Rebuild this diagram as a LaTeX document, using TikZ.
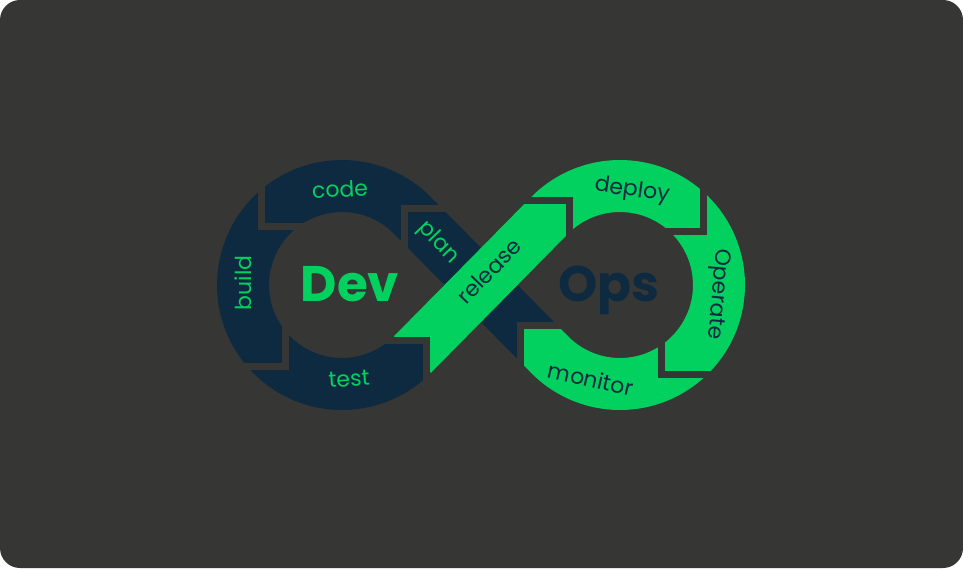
\documentclass[tikz,border=0pt]{standalone}
\usepackage{fontspec}
\setmainfont{Poppins}
\usetikzlibrary{calc}

\definecolor{bgdark}{HTML}{363634}
\definecolor{opsnavy}{HTML}{0E2A40}
\definecolor{devgreen}{HTML}{03D15F}

% chevron cut: name, tip, direction of horizontal arm, direction of vertical arm
\newcommand\chevron[4]{%
  \coordinate (#1) at #2;
  \coordinate (#1-h) at ($(#1)+(#3*64,0)$);
  \coordinate (#1-v) at ($(#1)+(0,#4*64)$);
}

% centre line of the whole loop
\def\eightpath{(T1) -- (T2) arc[start angle=135.4,end angle=-135.4,radius=99]
  -- (T4) arc[start angle=44.6,end angle=315.4,radius=99] -- cycle}

\begin{document}
\begin{tikzpicture}[x=1pt, y=1pt,
  seg/.style={line width=52pt},
  gap/.style={draw=bgdark, line width=7pt, line join=miter},
  lbl/.style={font=\fontsize{22}{22}\selectfont, inner sep=0pt},
  big/.style={font=\fontsize{50}{50}\selectfont\bfseries, inner sep=0pt, anchor=base}]

\useasboundingbox (0,0) rectangle (963,568);
\fill[white] (0,0) rectangle (963,568);
\fill[bgdark, rounded corners=20pt] (0,0) rectangle (963,568);

\coordinate (C1) at (342,283);
\coordinate (C2) at (620,283);
\coordinate (T1) at ($(C1)+(-44.6:99)$);
\coordinate (T2) at ($(C2)+(135.4:99)$);
\coordinate (T3) at ($(C2)+(-135.4:99)$);
\coordinate (T4) at ($(C1)+(44.6:99)$);

\chevron{ch1}{($(C1)+(50.5:99)$)}{1}{-1}      % plan -> code
\chevron{ch2}{($(C1)+(144:99)$)}{1}{1}        % code -> build
\chevron{ch3}{($(C1)+(235:99)$)}{-1}{1}       % build -> test
\chevron{ch4}{($(T1)+(45.4:20)$)}{-1}{-1}     % test -> release
\chevron{ch5}{($(C2)+(121:99)$)}{-1}{-1}      % release -> deploy
\chevron{ch6}{($(C2)+(33:99)$)}{-1}{1}        % deploy -> operate
\chevron{ch7}{($(C2)+(-65:99)$)}{1}{1}        % operate -> monitor
\chevron{ch8}{($(T3)+(134.6:41)$)}{1}{-1}     % monitor -> plan

% Dev side
\begin{scope}
  \clip (ch1-v) -- (ch1) -- (ch1-h) -- (473,450) -- (250,460) -- (ch2-v) -- (ch2) -- (ch2-h) -- cycle;
  \draw[seg, opsnavy] \eightpath;
\end{scope}
\begin{scope}
  \clip (ch2-h) -- (ch2) -- (ch2-v) -- (190,430) -- (140,283) -- (190,130) -- (ch3-h) -- (ch3) -- (ch3-v) -- cycle;
  \draw[seg, opsnavy] \eightpath;
\end{scope}
\begin{scope}
  \clip (ch3-v) -- (ch3) -- (ch3-h) -- (215,120) -- (330,100) -- (445,130) -- (ch4-v) -- (ch4) -- (ch4-h) -- cycle;
  \draw[seg, opsnavy] \eightpath;
\end{scope}
\begin{scope}
  \clip (ch8-h) -- (ch8) -- (ch8-v) -- (ch1-v) -- (ch1) -- (ch1-h) -- cycle;
  \draw[seg, opsnavy] \eightpath;
\end{scope}

% Ops side
\begin{scope}
  \clip (ch5-h) -- (ch5) -- (ch5-v) -- (ch6-h) -- (ch6) -- (ch6-v) -- (690,470) -- (530,470) -- cycle;
  \draw[seg, devgreen] \eightpath;
\end{scope}
\begin{scope}
  \clip (ch6-h) -- (ch6) -- (ch6-v) -- (800,400) -- (800,170) -- (ch7-h) -- (ch7) -- (ch7-v) -- cycle;
  \draw[seg, devgreen] \eightpath;
\end{scope}
\begin{scope}
  \clip (ch7-v) -- (ch7) -- (ch7-h) -- (740,110) -- (560,100) -- (480,150) -- (ch8-v) -- (ch8) -- (ch8-h) -- cycle;
  \draw[seg, devgreen] \eightpath;
\end{scope}
\begin{scope}
  \clip (ch4-h) -- (ch4) -- (ch4-v) -- (ch5-v) -- (ch5) -- (ch5-h) -- cycle;
  \draw[seg, devgreen] (T1) -- (T2) arc[start angle=135.4,end angle=100,radius=99];
\end{scope}

% cuts between the steps
\foreach \c in {ch1,ch2,ch3,ch4,ch5,ch6,ch7,ch8}
  \draw[gap] (\c-h) -- (\c) -- (\c-v);

\node[lbl, devgreen, rotate=3] (code) at (340,379) {code};
\node[lbl, devgreen, rotate=90] (build) at (243,285) {build};
\node[lbl, devgreen, rotate=4] (test) at (349,189) {test};
\node[lbl, devgreen, rotate=-46] (plan) at (438,325) {plan};
\node[lbl, opsnavy, rotate=46] (release) at (489,297) {release};
\node[lbl, opsnavy, rotate=-8] (deploy) at (632,377) {deploy};
\node[lbl, opsnavy, rotate=-95] (operate) at (717,274) {Operate};
\node[lbl, opsnavy, rotate=-13] (monitor) at (591,189) {monitor};

\node[big, devgreen] (dev) at (350,266) {Dev};
\node[big, opsnavy] (ops) at (609,266) {Ops};
\end{tikzpicture}
\end{document}
